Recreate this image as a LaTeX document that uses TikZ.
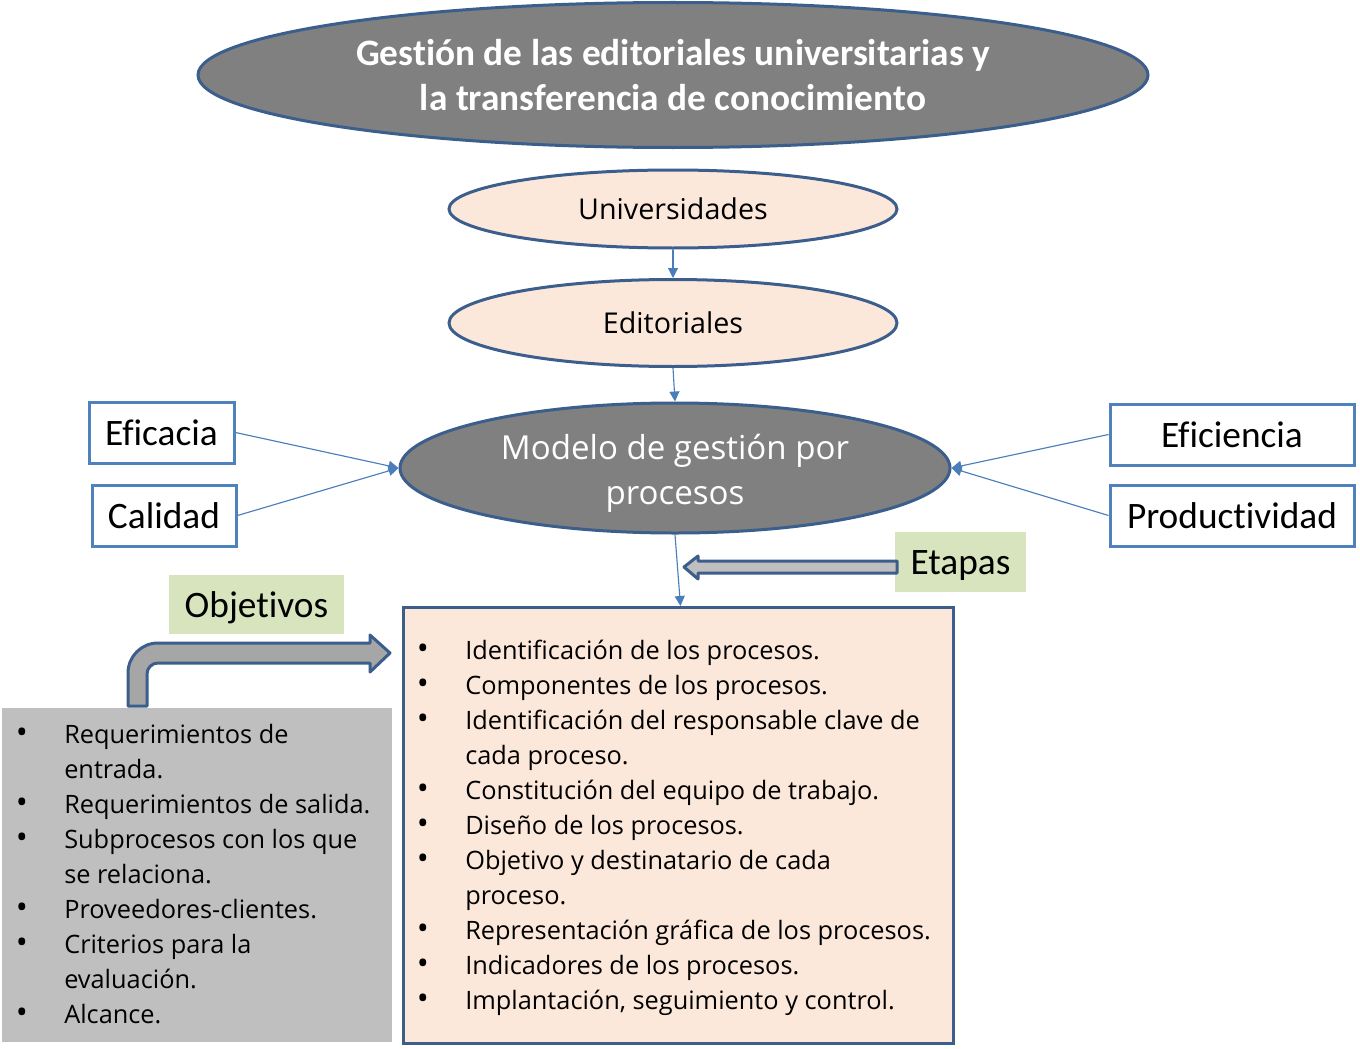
\documentclass[tikz,border=0pt]{standalone}
\usepackage{fontspec}
\setmainfont{Carlito}[Ligatures=NoCommon]
\newfontfamily\segoe{Open Sans}
\usetikzlibrary{shapes.geometric,arrows.meta}
\definecolor{dblue}{HTML}{3B5E8C}
\definecolor{lblue}{HTML}{4F81BD}
\definecolor{cblue}{HTML}{4A7EBB}
\definecolor{peach}{HTML}{FCE8DA}
\definecolor{ggray}{HTML}{808080}
\definecolor{lgreen}{HTML}{D7E4BD}
\definecolor{lgray}{HTML}{BFBFBF}
\definecolor{mgray}{HTML}{A6A6A6}
\tikzset{
  grayell/.style={ellipse, draw=dblue, line width=2.25pt, fill=ggray, inner sep=0pt, text=white, align=center},
  peachell/.style={ellipse, draw=dblue, line width=2.25pt, fill=peach, inner sep=0pt, align=center, font=\segoe\fontsize{21.5}{24}\selectfont},
  valbox/.style={rectangle, draw=lblue, line width=2.25pt, fill=white, inner sep=0pt, font=\fontsize{28}{30}\selectfont},
  greenlbl/.style={rectangle, fill=lgreen, inner sep=0pt, font=\fontsize{28}{30}\selectfont},
  conn/.style={draw=cblue, line width=0.85pt, -{Triangle[length=7.5pt,width=7.5pt]}},
  blockarrow/.style={draw=dblue, line width=2.25pt, line join=round},
  listtxt/.style={anchor=north west, inner sep=0pt, align=left, font=\segoe\fontsize{19}{26.25}\selectfont},
}
\newcommand{\bul}{\makebox[35.25pt][l]{\hspace*{-1pt}\fontsize{24}{24}\selectfont •}}
\newcommand{\ind}{\hspace*{35.25pt}}
\newcommand{\lowtxt}[1]{\raisebox{-2.5pt}[\height][\depth]{#1}}
\begin{document}
\begin{tikzpicture}[x=0.75pt,y=-0.75pt]
\useasboundingbox (0,0) rectangle (1360,1049);

% boxes for lists
\node[rectangle, fill=lgray, inner sep=0pt, minimum width=390*0.75pt, minimum height=334*0.75pt, anchor=north west] (listL) at (2,708) {};
\node[rectangle, draw=dblue, line width=2.25pt, fill=peach, inner sep=0pt, minimum width=550*0.75pt, minimum height=436*0.75pt, anchor=north west] (listR) at (402,606) {};

% ellipses
\node[grayell, minimum width=950*0.75pt, minimum height=145*0.75pt, font=\bfseries\fontsize{28}{33.75}\selectfont] (title) at (673,75)
  {Gestión de las editoriales universitarias y\\la transferencia de conocimiento};
\node[peachell, minimum width=448*0.75pt, minimum height=78*0.75pt] (univ) at (673,209) {Universidades};
\node[peachell, minimum width=448*0.75pt, minimum height=87*0.75pt] (edit) at (673,323) {Editoriales};
\node[grayell, minimum width=550*0.75pt, minimum height=130*0.75pt] (model) at (675,468) {};
\node[text=white, align=center, inner sep=0pt, font=\segoe\fontsize{24.8}{33.75}\selectfont] (modeltxt) at (675,473)
  {Modelo de gestión por\\procesos};

% value boxes
\node[valbox, minimum width=145*0.75pt, minimum height=61*0.75pt] (efic) at (161.5,432.5) {Eficacia};
\node[valbox, minimum width=144*0.75pt, minimum height=61*0.75pt] (cal) at (164,515.5) {Calidad};
\node[valbox, minimum width=244*0.75pt, minimum height=61*0.75pt] (efi) at (1232,434.5) {Eficiencia};
\node[valbox, minimum width=244*0.75pt, minimum height=61*0.75pt] (prod) at (1232,515.5) {Productividad};

% green labels
\node[greenlbl, minimum width=131*0.75pt, minimum height=60*0.75pt] (etapas) at (960.5,562) {\lowtxt{Etapas}};
\node[greenlbl, minimum width=175*0.75pt, minimum height=59*0.75pt] (objet) at (256.5,604.5) {\lowtxt{Objetivos}};

% connectors
\draw[conn] (univ) -- (edit);
\draw[conn] (edit.south) -- (model.north);
\draw[conn] (efic.east) -- (model.west);
\draw[conn] (cal.east) -- (model.west);
\draw[conn] (efi.west) -- (model.east);
\draw[conn] (prod.west) -- (model.east);
\draw[conn] (model.south) -- ([xshift=1.5pt]listR.north);

% Etapas block arrow
\draw[blockarrow, fill=lgray] (897,561) -- (698,561) -- (698,556) -- (684,567) -- (698,579) -- (698,573) -- (897,573) -- cycle;

% Objetivos bent arrow
\draw[blockarrow, fill=mgray] (128,706) -- (128,673) arc[start angle=180, end angle=270, radius=30] -- (370,643) -- (370,635) -- (390,653) -- (370,672) -- (370,663) -- (158,663) arc[start angle=270, end angle=180, radius=11] -- (147,706) -- cycle;

% list texts
\node[listtxt] (listRtxt) at (418,640) {%
\bul Identificación de los procesos.\\
\bul Componentes de los procesos.\\
\bul Identificación del responsable clave de\\
\ind cada proceso.\\
\bul Constitución del equipo de trabajo.\\
\bul Diseño de los procesos.\\
\bul Objetivo y destinatario de cada\\
\ind proceso.\\
\bul Representación gráfica de los procesos.\\
\bul Indicadores de los procesos.\\
\bul Implantación, seguimiento y control.};
\node[listtxt] (listLtxt) at (17,724) {%
\bul Requerimientos de\\
\ind entrada.\\
\bul Requerimientos de salida.\\
\bul Subprocesos con los que\\
\ind se relaciona.\\
\bul Proveedores-clientes.\\
\bul Criterios para la\\
\ind evaluación.\\
\bul Alcance.};
\end{tikzpicture}
\end{document}
